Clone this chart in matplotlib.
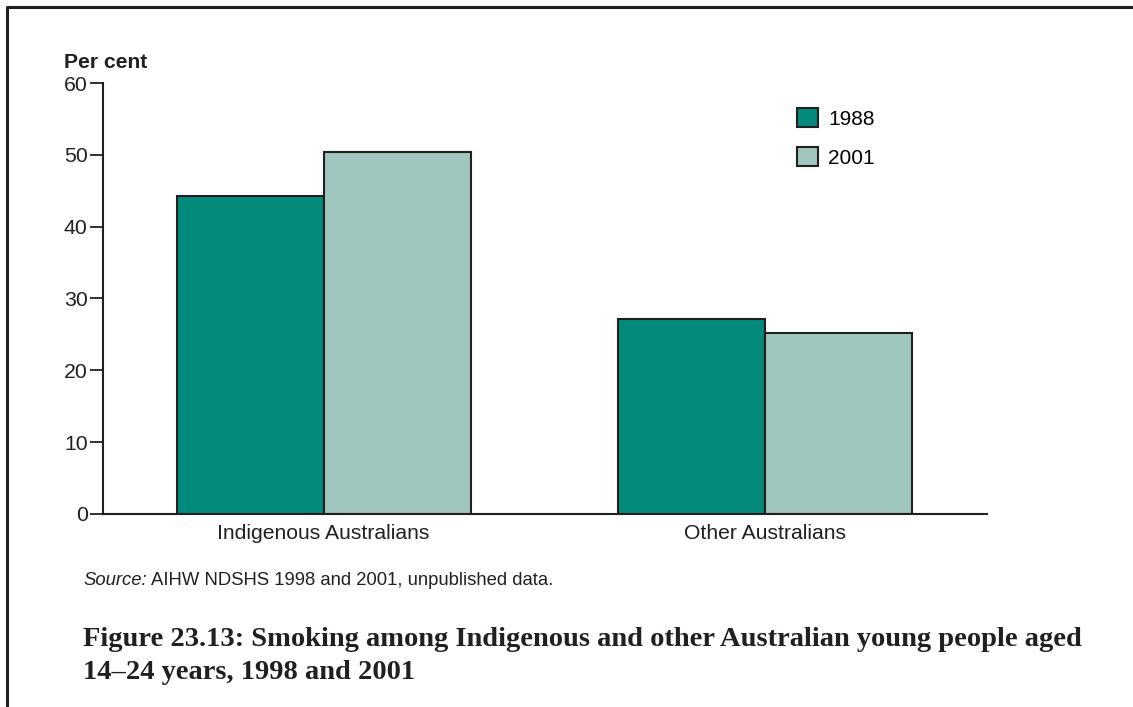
import matplotlib.pyplot as plt
import numpy as np

categories = ['Indigenous Australians', 'Other Australians']
years = ['1988', '2001']
values_1988 = [44.2, 27.1]
values_2001 = [50.4, 25.2]
yticks = [0, 10, 20, 30, 40, 50, 60]

plt.rcParams['font.family'] = ['Liberation Sans', 'DejaVu Sans']
dark = '#231f20'

fig = plt.figure(figsize=(11.33, 7.07), dpi=100)
ax = fig.add_axes([0.0909, 0.2730, 0.7802, 0.6096])

centers = np.array([1.5, 4.5])
ax.bar(centers - 0.5, values_1988, width=1, color='#048a7b', edgecolor=dark, linewidth=1.5, label=years[0])
ax.bar(centers + 0.5, values_2001, width=1, color='#a0c7bf', edgecolor=dark, linewidth=1.5, label=years[1])

ax.set_xlim(0, 6.01)
ax.set_ylim(0, 60)
ax.set_yticks(yticks)
ax.set_xticks(centers)
ax.set_xticklabels(categories)
ax.tick_params(axis='y', length=9.5, width=1.3, color=dark, labelsize=15.3, pad=1.5, labelcolor=dark)
ax.tick_params(axis='x', length=0, labelsize=15.2, pad=7, labelcolor=dark)
for s in ['top', 'right']:
    ax.spines[s].set_visible(False)
for s in ['left', 'bottom']:
    ax.spines[s].set_color(dark)
    ax.spines[s].set_linewidth(1.5)

fig.text(64 / 1133, 1 - 68 / 707, 'Per cent', fontsize=15.2, fontweight='bold',
         color=dark, ha='left', va='baseline')

ax.legend(loc='upper left', bbox_to_anchor=(0.766, 0.98), frameon=False, fontsize=15,
          handlelength=1.0, handleheight=1.0, handletextpad=0.5, labelspacing=0.88,
          borderpad=0.3)

src_y = 1 - 585 / 707
src = fig.text(83 / 1133, src_y, 'Source:', fontsize=13.3, color=dark, style='italic', va='baseline')
r = fig.canvas.get_renderer()
bb = src.get_window_extent(renderer=r)
fig.text(bb.x1 / 1133 + 4 / 1133, src_y, 'AIHW NDSHS 1998 and 2001, unpublished data.',
         fontsize=13.3, color=dark, va='baseline')

cap = dict(fontsize=20.5, fontweight='bold', family='Liberation Serif', color=dark, va='baseline')
fig.text(83 / 1133, 1 - 646 / 707,
         'Figure 23.13: Smoking among Indigenous and other Australian young people aged', **cap)
fig.text(83 / 1133, 1 - 679 / 707, '14\u201324 years, 1998 and 2001', **cap)

fig.add_artist(plt.Line2D([0.0062, 0.0062, 1.0], [0.0, 0.990, 0.990],
                          transform=fig.transFigure, color=dark, linewidth=2.2))

fig.savefig('out.png', dpi=100)
